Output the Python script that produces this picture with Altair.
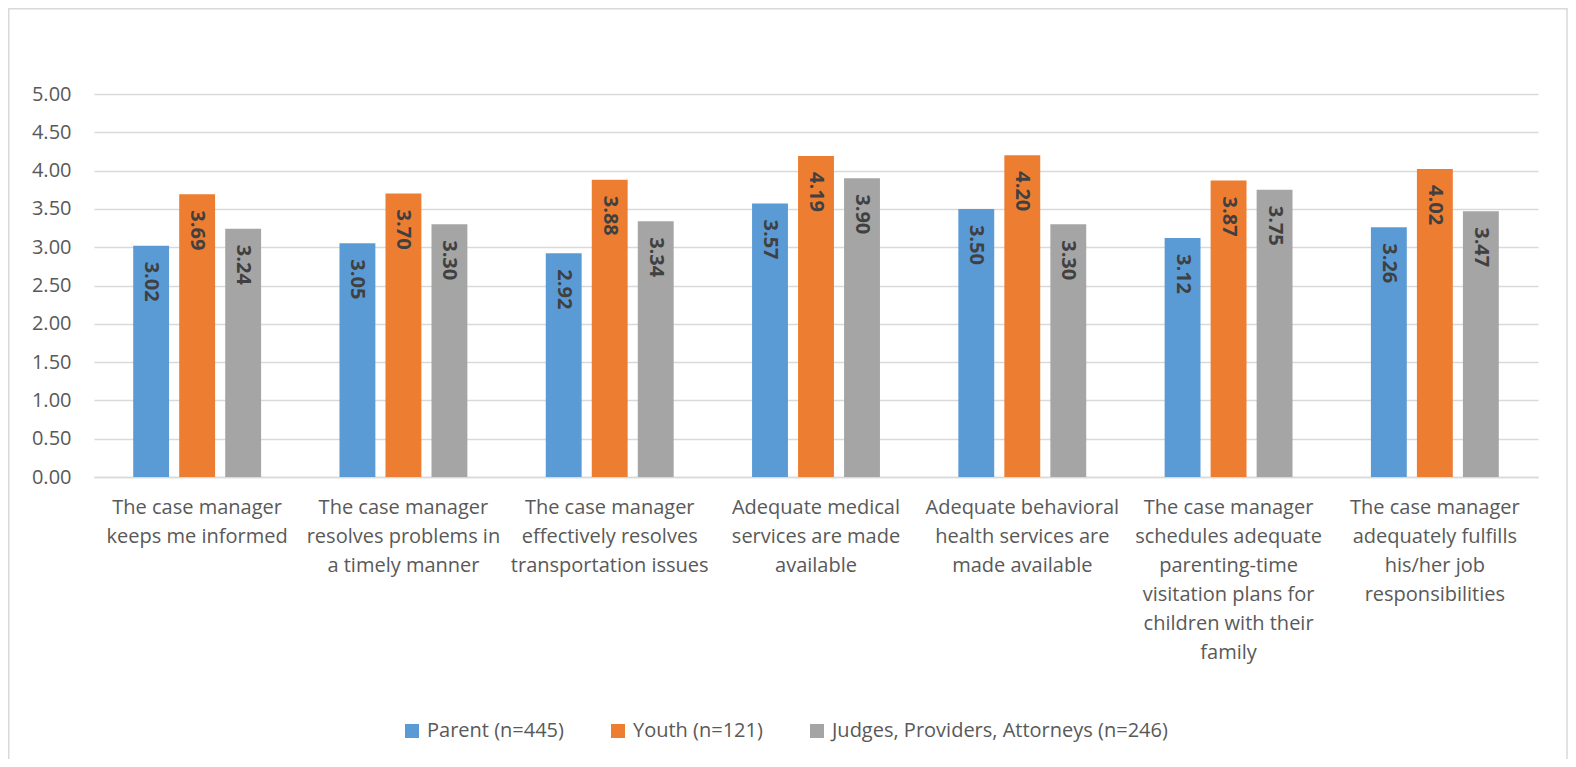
import altair as alt
import pandas as pd

categories = [
    "The case manager|keeps me informed",
    "The case manager|resolves problems in|a timely manner",
    "The case manager|effectively resolves|transportation issues",
    "Adequate medical|services are made|available",
    "Adequate behavioral|health services are|made available",
    "The case manager|schedules adequate|parenting-time|visitation plans for|children with their|family",
    "The case manager|adequately fulfills|his/her job|responsibilities",
]
series = ["Parent (n=445)", "Youth (n=121)", "Judges, Providers, Attorneys (n=246)"]
parent = [3.02, 3.05, 2.92, 3.57, 3.50, 3.12, 3.26]
youth = [3.69, 3.70, 3.88, 4.19, 4.20, 3.87, 4.02]
judges = [3.24, 3.30, 3.34, 3.90, 3.30, 3.75, 3.47]
colors = ["#5B9BD5", "#ED7D31", "#A5A5A5"]
y_ticks = [0, 0.5, 1, 1.5, 2, 2.5, 3, 3.5, 4, 4.5, 5]

rows = []
for s, vals in zip(series, [parent, youth, judges]):
    for c, v in zip(categories, vals):
        rows.append({"category": c, "series": s, "value": v})
df = pd.DataFrame(rows)

FONT = "Open Sans"

base = alt.Chart(df).encode(
    x=alt.X(
        "category:N",
        sort=categories,
        title=None,
        scale=alt.Scale(paddingInner=0.38, paddingOuter=0.19),
        axis=alt.Axis(
            labelAngle=0,
            labelExpr="split(datum.label, '|')",
            labelLineHeight=29,
            labelBaseline="top",
            labelPadding=20,
            labelLimit=400,
            labelFontSize=20,
            labelColor="#595959",
            labelFont=FONT,
            ticks=False,
            domainColor="#d9d9d9",
            domainWidth=1.5,
            grid=False,
        ),
    ),
    xOffset=alt.XOffset(
        "series:N", sort=series, scale=alt.Scale(paddingInner=0.22, paddingOuter=0)
    ),
    y=alt.Y(
        "value:Q",
        title=None,
        scale=alt.Scale(domain=[0, 5], nice=False, zero=True),
        axis=alt.Axis(
            values=y_ticks,
            tickCount=11,
            format=".2f",
            labelFontSize=20,
            labelColor="#595959",
            labelFont=FONT,
            labelPadding=23,
            labelOverlap=False,
            labelFlush=False,
            ticks=False,
            domain=False,
            gridColor="#d9d9d9",
            gridWidth=1.5,
        ),
    ),
)

bars = base.mark_bar().encode(
    color=alt.Color(
        "series:N",
        sort=series,
        scale=alt.Scale(domain=series, range=colors),
        legend=alt.Legend(
            title=None,
            orient="none",
            direction="horizontal",
            legendX=308,
            legendY=627,
            symbolType="square",
            symbolSize=196,
            symbolStrokeWidth=0,
            symbolOpacity=1,
            labelFontSize=20,
            labelFont=FONT,
            labelColor="#595959",
            labelOffset=5,
            labelLimit=600,
            columnPadding=44,
        ),
    ),
)

labels = base.mark_text(
    angle=90,
    align="left",
    baseline="middle",
    dx=16,
    font=FONT,
    fontSize=20,
    fontWeight="bold",
    color="#404040",
).encode(
    text=alt.Text("value:Q", format=".2f"),
)

frame = alt.Chart(pd.DataFrame({"k": [0]})).mark_rect(
    filled=False, stroke="#d9d9d9", strokeWidth=1.5
).encode(
    x=alt.value(-85.25),
    x2=alt.value(1473),
    y=alt.value(-85.25),
    y2=alt.value(800),
)

chart = (
    alt.layer(frame, bars, labels)
    .properties(
        width=1444,
        height=383,
        autosize=alt.AutoSizeParams(type="none"),
        padding={"left": 86, "top": 86, "right": 30, "bottom": 282},
        view=alt.ViewBackground(strokeWidth=0, strokeOpacity=0),
    )
    .configure_view(strokeWidth=0, strokeOpacity=0)
    .configure(background="white")
)

chart.save("out.html", embed_options={"renderer": "svg", "actions": False})
